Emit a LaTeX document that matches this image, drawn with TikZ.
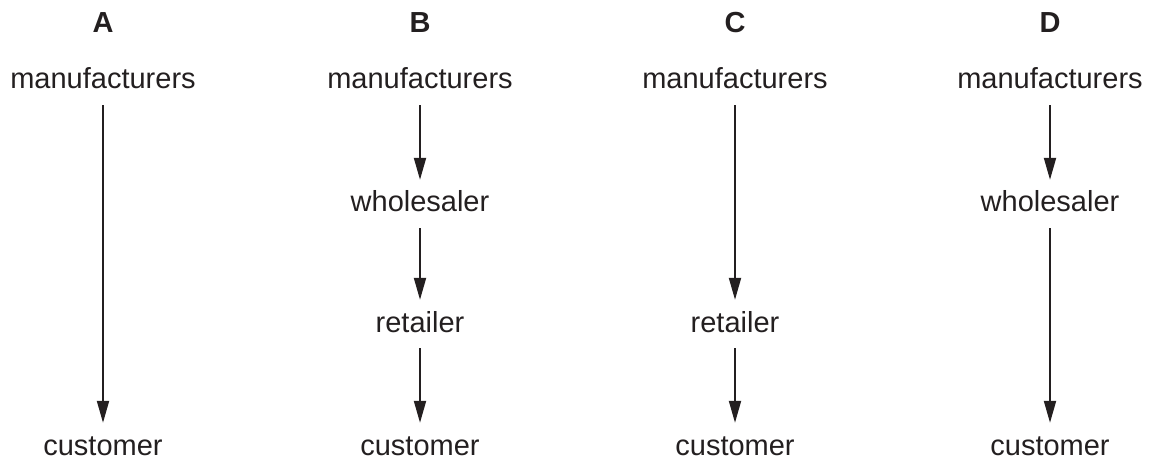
\documentclass[tikz,border=0pt]{standalone}
\usepackage{fontspec}
\setmainfont{Liberation Sans}
\usetikzlibrary{arrows.meta}
\definecolor{ink}{HTML}{231F20}

\begin{document}
\begin{tikzpicture}[x=1pt,y=-1pt,
  every node/.style={font=\fontsize{29}{34}\selectfont,text=ink,inner sep=0pt,
    text height=21pt,text depth=0pt,anchor=base},
  title/.style={font=\fontsize{29}{34}\selectfont\bfseries},
  flow/.style={draw=ink,line width=2pt,shorten <=16pt,shorten >=11pt,
    -{Triangle[length=22pt,width=12pt]}}]
  \useasboundingbox (0,0) rectangle (1152,457);
  \node[title] (tA) at (103,33) {A};
  \node[title] (tB) at (420,33) {B};
  \node[title] (tC) at (735,33) {C};
  \node[title] (tD) at (1050,33) {D};
  \node (mA) at (103,89) {manufacturers};
  \node (cA) at (103,455) {customer};
  \node (mB) at (420,89) {manufacturers};
  \node (wB) at (420,212) {wholesaler};
  \node (rB) at (420,332) {retailer};
  \node (cB) at (420,455) {customer};
  \node (mC) at (735,89) {manufacturers};
  \node (rC) at (735,332) {retailer};
  \node (cC) at (735,455) {customer};
  \node (mD) at (1050,89) {manufacturers};
  \node (wD) at (1050,212) {wholesaler};
  \node (cD) at (1050,455) {customer};
  \draw[flow] (mA) -- (cA);
  \draw[flow] (mB) -- (wB);
  \draw[flow] (wB) -- (rB);
  \draw[flow] (rB) -- (cB);
  \draw[flow] (mC) -- (rC);
  \draw[flow] (rC) -- (cC);
  \draw[flow] (mD) -- (wD);
  \draw[flow] (wD) -- (cD);
\end{tikzpicture}
\end{document}
